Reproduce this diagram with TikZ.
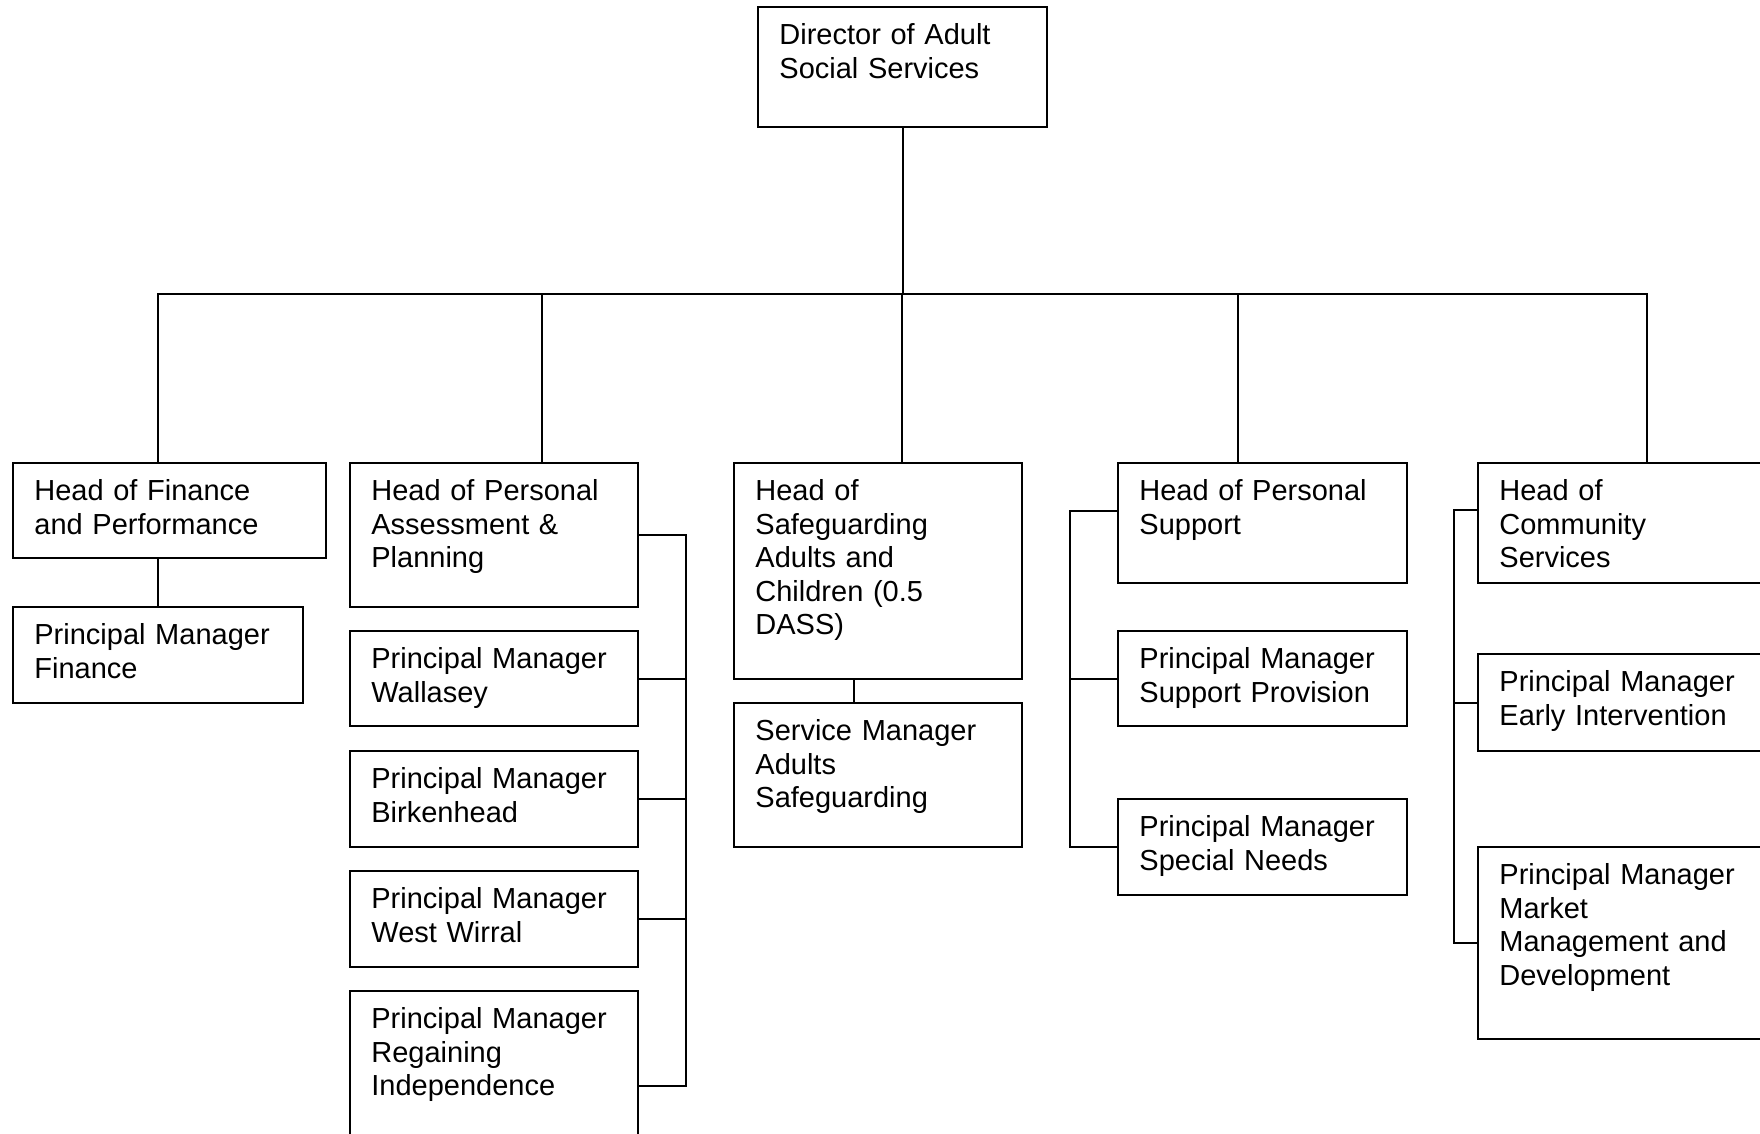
\documentclass[tikz,border=0pt]{standalone}
\usepackage{fontspec}
\setmainfont{Liberation Sans}
\newcommand{\obox}[6]{%
  \node[box, minimum width={(#4-#2)*0.5pt}, minimum height={(#5-#3)*0.5pt}] (#1) at (#2,#3) {};
  \node[lbl] (#1t) at ([shift={(21,14)}]#1.north west) {\strut #6};}
\begin{document}
\begin{tikzpicture}[x=0.5pt,y=-0.5pt,
  box/.style={draw=black, line width=1pt, anchor=north west, inner sep=0pt, outer sep=0pt},
  lbl/.style={anchor=north west, inner sep=0pt, align=left, text width=200pt,
    font=\fontsize{14.5}{16.75}\selectfont},
  conn/.style={draw=black, line width=1pt}]
\clip (0,0) rectangle (1760,1134);
\fill[white] (0,0) rectangle (1760,1134);

% boxes
\obox{dir}{758}{7}{1047}{127}{Director of Adult\\Social Services}
\obox{fin}{13}{463}{326}{558}{Head of Finance\\and Performance}
\obox{pmfin}{13}{607}{303}{703}{Principal Manager\\Finance}
\obox{pa}{350}{463}{638}{607}{Head of Personal\\Assessment \&\\Planning}
\obox{wal}{350}{631}{638}{726}{Principal Manager\\Wallasey}
\obox{bir}{350}{751}{638}{847}{Principal Manager\\Birkenhead}
\obox{ww}{350}{871}{638}{967}{Principal Manager\\West Wirral}
\obox{reg}{350}{991}{638}{1181}{Principal Manager\\Regaining\\Independence}
\obox{saf}{734}{463}{1022}{679}{Head of\\Safeguarding\\Adults and\\Children (0.5\\DASS)}
\obox{sm}{734}{703}{1022}{847}{Service Manager\\Adults\\Safeguarding}
\obox{ps}{1118}{463}{1407}{583}{Head of Personal\\Support}
\obox{psp}{1118}{631}{1407}{726}{Principal Manager\\Support Provision}
\obox{psn}{1118}{799}{1407}{895}{Principal Manager\\Special Needs}
\obox{com}{1478}{463}{1790}{583}{Head of\\Community\\Services}
\obox{ei}{1478}{654}{1790}{751}{Principal Manager\\Early Intervention}
\obox{mk}{1478}{847}{1790}{1039}{Principal Manager\\Market\\Management and\\Development}

% top tree
\draw[conn] (dir.south) -- ++(0,167) coordinate (bus);
\draw[conn] (fin.north west) ++(145,0) |- (bus);
\draw[conn] (pa.north west) ++(192,0) |- (bus);
\draw[conn] (saf.north west) ++(168,0) |- (bus);
\draw[conn] (ps.north west) ++(120,0) |- (bus);
\draw[conn] (com.north west) ++(169,0) |- (bus);

% finance
\draw[conn] (pmfin.north) -- (pmfin.north |- fin.south);

% safeguarding
\draw[conn] (saf.south west) ++(120,0) coordinate (sft) -- (sft |- sm.north);

% personal assessment bracket
\draw[conn] (pa.east) -- ++(48,0) |- (reg.east);
\draw[conn] (wal.east) -- ++(48,0);
\draw[conn] (bir.east) -- ++(48,0);
\draw[conn] (ww.east) -- ++(48,0);

% personal support bracket
\draw[conn] (ps.north west) ++(0,48) -- ++(-48,0) |- (psn.west);
\draw[conn] (psp.west) -- ++(-48,0);

% community bracket
\draw[conn] (com.north west) ++(0,47) -- ++(-24,0) |- (mk.west);
\draw[conn] (ei.west) -- ++(-24,0);
\end{tikzpicture}
\end{document}
